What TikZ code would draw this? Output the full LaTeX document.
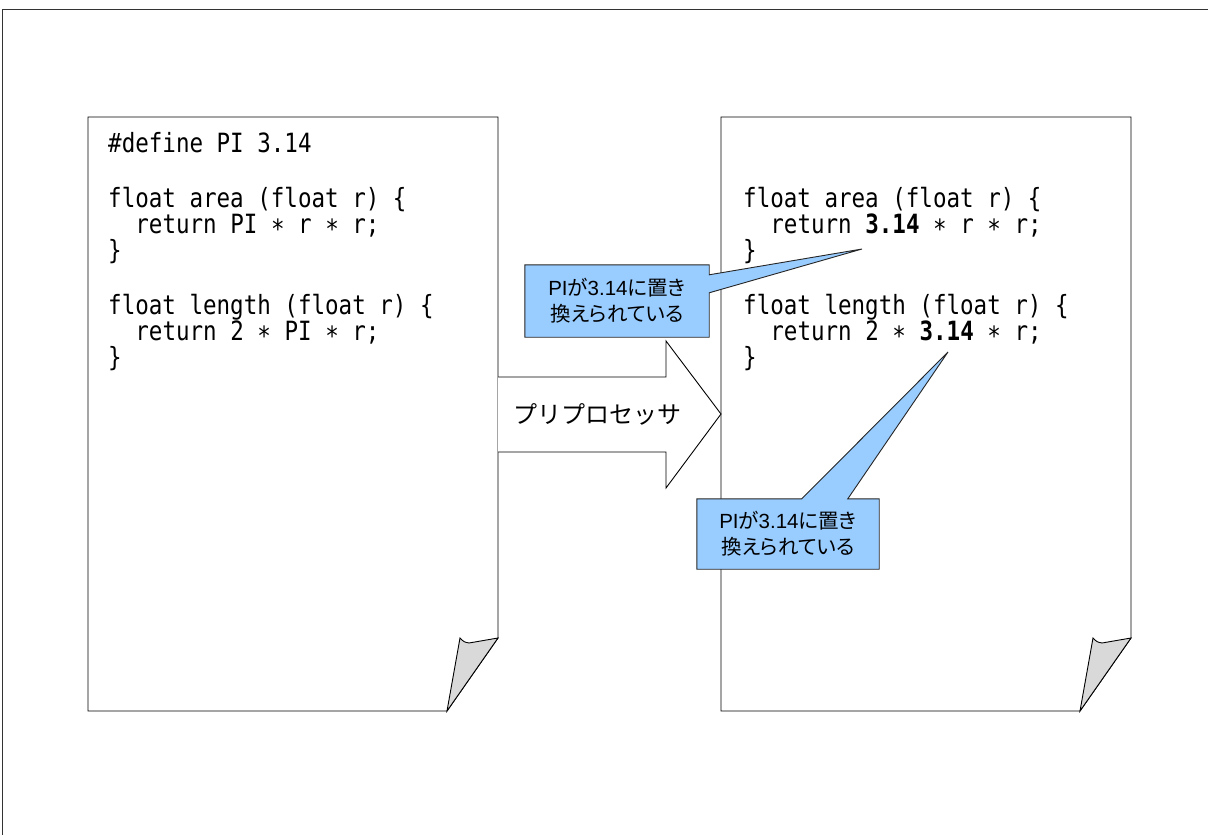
\documentclass[tikz,border=0pt]{standalone}
\usepackage{fontspec}
\usetikzlibrary{calc}
\newfontfamily\jp{Noto Sans CJK JP}
\newfontfamily\jpp[RawFeature=+palt]{Noto Sans CJK JP}
\newfontfamily\lat{Liberation Sans}
\newfontfamily\code[FakeStretch=0.85]{DejaVu Sans Mono}
\newcommand{\mystar}{\raisebox{-0.22em}{*}}
\definecolor{callblue}{HTML}{99CCFF}
\definecolor{flapgray}{HTML}{D9D9D9}
\pgfdeclarelayer{back}
\pgfdeclarelayer{background}
\pgfsetlayers{back,background,main}
\tikzset{
  outline/.style={draw=black, line width=0.9pt, line join=miter},
  codeline/.style={anchor=base west, inner sep=0pt, font=\code\fontsize{26.5}{26.5}\selectfont},
  calltext/.style={inner sep=0pt, minimum width=#1, align=center, font=\jpp\fontsize{20.5}{26}\selectfont},
  callshape/.style={draw=black!85, line width=0.9pt, fill=callblue},
  pagepic/.pic={
    \draw[outline, fill=white] (0,0) -- (410,0) -- (410,521) -- (359,594) -- (0,594) -- cycle;
    \draw[outline, fill=flapgray] (410,521) -- (381,526) .. controls (376,525) .. (372,521) -- (359,594) -- cycle;
  }
}
\newcommand{\calltxt}{{\lat PI}が{\lat 3.14}に置き\\換えられている}
\begin{document}
\begin{tikzpicture}[x=1pt,y=-1pt]
\useasboundingbox (0,0) rectangle (1208,835);
\begin{pgfonlayer}{back}
\draw[black!80, line width=1pt] (1208,9) -- (2,9) -- (2,835);
% pages
\pic at (88,117) {pagepic};
\pic at (721,117) {pagepic};
% big arrow
\draw[outline, fill=white] (498,377) -- (666,377) -- (666,341) -- (721,414) -- (666,488) -- (666,452) -- (498,452);
\end{pgfonlayer}
\node[font=\jp\fontsize{24}{24}\selectfont, inner sep=0pt] (pp) at (597,414) {プリプロセッサ};

% left code
\node[codeline] (l1) at (108,152) {\#define PI 3.14};
\node[codeline] (l2) at (108,207) {float area (float r) \{};
\node[codeline] (l3) at (135.2,233) {return PI \mystar{} r \mystar{} r;};
\node[codeline] (l4) at (108,259) {\}};
\node[codeline] (l5) at (108,314) {float length (float r) \{};
\node[codeline] (l6) at (135.2,340) {return 2 \mystar{} PI \mystar{} r;};
\node[codeline] (l7) at (108,366) {\}};

% right code
\node[codeline] (r2) at (743,207) {float area (float r) \{};
\node[codeline] (r3) at (770.2,233) {return {\bfseries 3.14} \mystar{} r \mystar{} r;};
\node[codeline] (r4) at (743,259) {\}};
\node[codeline] (r5) at (743,314) {float length (float r) \{};
\node[codeline] (r6) at (770.2,340) {return 2 \mystar{} {\bfseries 3.14} \mystar{} r;};
\node[codeline] (r7) at (743,366) {\}};

% callouts
\coordinate (tip1) at (862,249);
\coordinate (tip2) at (948,352);
\node[calltext=184, minimum height=72] (c1) at (617,301) {\calltxt};
\node[calltext=182, minimum height=70] (c2) at (788,534) {\calltxt};
\begin{pgfonlayer}{background}
\draw[callshape] (c1.north west) -- (c1.north east) -- ($(c1.north east)+(0,10)$) -- (tip1) -- ($(c1.north east)+(0,28)$) -- (c1.south east) -- (c1.south west) -- cycle;
\draw[callshape] (c2.north west) -- ($(c2.north west)+(105,0)$) -- (tip2) -- ($(c2.north west)+(151,0)$) -- (c2.north east) -- (c2.south east) -- (c2.south west) -- cycle;
\end{pgfonlayer}
\end{tikzpicture}
\end{document}
